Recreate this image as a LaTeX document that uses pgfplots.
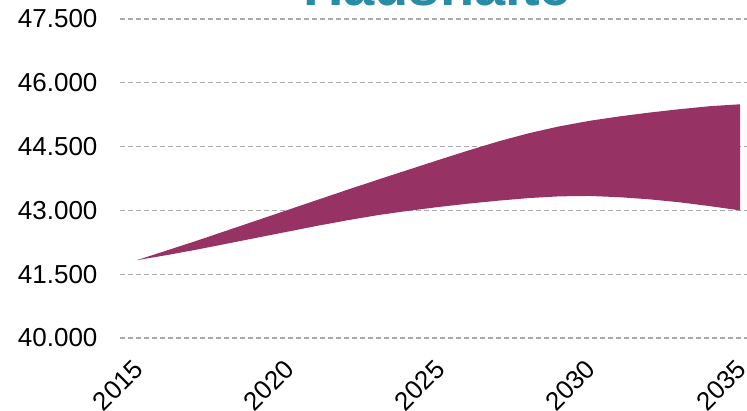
\documentclass[border=0pt]{standalone}
\usepackage{fontspec}
\setmainfont{Liberation Sans}
\usepackage{pgfplots}
\pgfplotsset{compat=1.18}
\definecolor{band}{RGB}{150,50,100}
\definecolor{titlecol}{RGB}{40,140,165}
\definecolor{gridcol}{RGB}{170,170,170}
\begin{document}
\begin{tikzpicture}
\begin{axis}[
  at={(120pt,73pt)}, anchor=south west,
  scale only axis, width=627pt, height=319pt,
  xmin=2014.44, xmax=2035.23,
  ymin=40000, ymax=47500,
  xtick={2015,2020,2025,2030,2035},
  ytick={40000,41500,43000,44500,46000,47500},
  scaled y ticks=false,
  ymajorgrids,
  grid style={gridcol, line width=1.3pt, dash pattern=on 5pt off 3pt},
  axis line style={draw=none},
  major tick length=0pt,
  tick style={draw=none},
  /pgf/number format/assume math mode=true,
  yticklabel style={/pgf/number format/.cd, 1000 sep={.}, min exponent for 1000 sep=0, fixed, precision=0, /tikz/.cd, font=\fontsize{26}{29}\selectfont, xshift=-19pt},
  xticklabel style={/pgf/number format/1000 sep={}, font=\fontsize{26}{29}\selectfont, xshift=-5pt, yshift=-20pt, rotate=45, anchor=north east, inner sep=0pt},
  clip=false,
]
\addplot[fill=band, draw=none] coordinates {
(2015,41830) (2016,42060) (2017,42290) (2018,42530) (2019,42770) (2020,43010)
(2021,43250) (2022,43490) (2023,43725) (2024,43955) (2025,44185) (2026,44410)
(2027,44625) (2028,44815) (2029,44975) (2030,45105) (2031,45210) (2032,45300)
(2033,45380) (2034,45450) (2035,45495)
(2035,43000) (2034,43100) (2033,43190) (2032,43260) (2031,43310) (2030,43340)
(2029,43330) (2028,43290) (2027,43230) (2026,43160) (2025,43080) (2024,42990)
(2023,42890) (2022,42770) (2021,42640) (2020,42500) (2019,42360) (2018,42220)
(2017,42080) (2016,41950) (2015,41830)} -- cycle;
\end{axis}
\node[anchor=base, text=titlecol, font=\fontsize{56}{60}\selectfont\bfseries, inner sep=0pt] at (437pt,405pt) {Haushalte};
\pgfresetboundingbox
\useasboundingbox (0pt,0pt) rectangle (747pt,411pt);
\end{tikzpicture}
\end{document}
